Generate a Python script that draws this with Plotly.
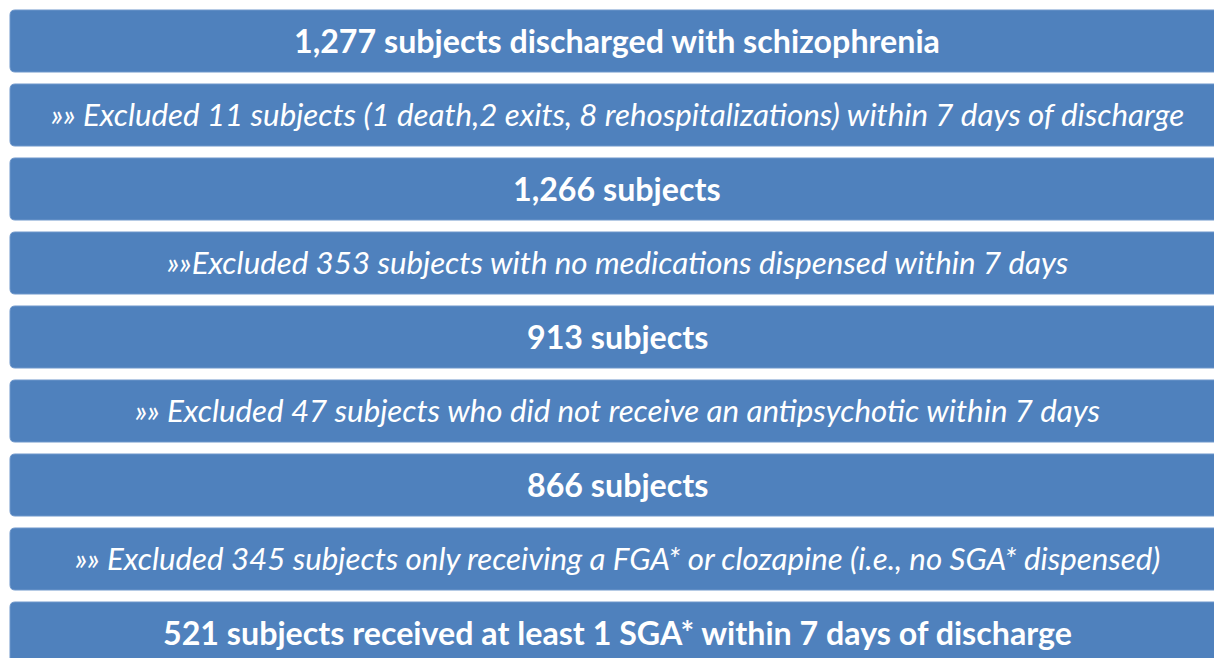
import plotly.graph_objects as go

# Flowchart content (top to bottom)
steps = [
    "1,277 subjects discharged with schizophrenia",
    "»» Excluded 11 subjects (1 death,2 exits, 8 rehospitalizations) within 7 days of discharge",
    "1,266 subjects",
    "»»Excluded 353 subjects with no medications dispensed within 7 days",
    "913 subjects",
    "»» Excluded 47 subjects who did not receive an antipsychotic within 7 days",
    "866 subjects",
    "»» Excluded 345 subjects only receiving a FGA* or clozapine (i.e., no SGA* dispensed)",
    "521 subjects received at least 1 SGA* within 7 days of discharge",
]
kinds = ["count", "exclusion", "count", "exclusion", "count", "exclusion", "count", "exclusion", "count"]

W, H = 1214, 658
X0, X1 = 10, 1224
TOP0, STEP, BOX_H, R = 10, 74, 62, 5
FILL = "#4F81BD"
EDGE = "#6F97CB"


def rounded(x0, y0, x1, y1, r):
    return (f"M{x0+r},{y0} L{x1-r},{y0} Q{x1},{y0} {x1},{y0+r} "
            f"L{x1},{y1-r} Q{x1},{y1} {x1-r},{y1} L{x0+r},{y1} "
            f"Q{x0},{y1} {x0},{y1-r} L{x0},{y0+r} Q{x0},{y0} {x0+r},{y0} Z")


fig = go.Figure()
shapes, annotations = [], []
for i, (txt, kind) in enumerate(zip(steps, kinds)):
    top = TOP0 + STEP * i
    bot = top + BOX_H
    shapes.append(dict(type="path", xref="x", yref="y", path=rounded(X0, top, X1, bot, R),
                       fillcolor=FILL, line=dict(color=EDGE, width=1), layer="below"))
    if kind == "count":
        font = dict(family="Lato, 'Noto Sans', sans-serif", size=32.2, color="white", weight="bold")
        label = f"<b>{txt}</b>"
    else:
        font = dict(family="Lato, 'Noto Sans', sans-serif", size=31.3, color="white", style="italic")
        label = f"<i>{txt}</i>"
    annotations.append(dict(x=(X0 + X1) / 2, y=(top + bot) / 2 - 1, xref="x", yref="y",
                            text=label, showarrow=False, font=font,
                            xanchor="center", yanchor="middle"))

fig.update_layout(
    width=W, height=H,
    margin=dict(l=0, r=0, t=0, b=0),
    paper_bgcolor="white", plot_bgcolor="white",
    shapes=shapes, annotations=annotations,
    xaxis=dict(range=[0, W], visible=False, fixedrange=True),
    yaxis=dict(range=[H, 0], visible=False, fixedrange=True),
    showlegend=False,
)

fig.write_html("out.html", config={"displayModeBar": False},
               post_script="document.body.style.margin='0';document.body.style.overflow='hidden';")
